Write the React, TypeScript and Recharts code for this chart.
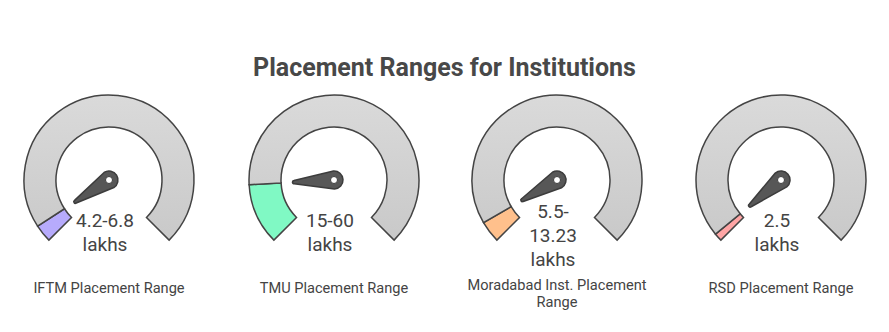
import { PieChart, Pie, Cell, Customized } from 'recharts'

// institutions, left to right
const institutions = ['IFTM', 'TMU', 'Moradabad Inst.', 'RSD']
const captionLines = [
  ['IFTM Placement Range'],
  ['TMU Placement Range'],
  ['Moradabad Inst. Placement', 'Range'],
  ['RSD Placement Range'],
]
const valueLines = [
  ['4.2-6.8', 'lakhs'],
  ['15-60', 'lakhs'],
  ['5.5-', '13.23', 'lakhs'],
  ['2.5', 'lakhs'],
]
// share of the dial that is filled (percent)
const filledShare = [4.5, 15.5, 5.5, 2]
const fillColors = ['#b7abfc', '#80f9c4', '#ffc08c', '#ffa5a5']

const W = 889
const H = 332
const CX = [109, 334, 557, 781]
const CY = 180
const START = 225
const END = -45
const INNER = 53
const OUTER = 85
const INK = '#444444'
const FONT = 'Roboto, "Noto Sans", sans-serif'

function needlePath(cx: number, cy: number, deg: number) {
  const a = (deg * Math.PI) / 180
  const ux = Math.cos(a), uy = -Math.sin(a) // screen direction to tip
  const px = -uy, py = ux // perpendicular
  const L = 40, R = 9, t = 1.6
  const tx = cx + ux * L, ty = cy + uy * L
  const p1 = [tx + px * t, ty + py * t]
  const p2 = [cx + px * R, cy + py * R]
  const p3 = [cx - px * R, cy - py * R]
  const p4 = [tx - px * t, ty - py * t]
  return `M${p1[0]},${p1[1]} L${p2[0]},${p2[1]} A${R},${R} 0 1 1 ${p3[0]},${p3[1]} L${p4[0]},${p4[1]} A${t},${t} 0 0 1 ${p1[0]},${p1[1]} Z`
}

function Overlay() {
  return (
    <g>
      <text x={W / 2} y={67} textAnchor="middle" dominantBaseline="central"
        fontFamily={FONT} fontWeight={700} fontSize={25} fill="#484848">
        Placement Ranges for Institutions
      </text>
      {institutions.map((inst, i) => {
        const cx = CX[i]
        const angle = START - (filledShare[i] / 100) * (START - END)
        const lines = valueLines[i]
        const y0 = 220 - (lines.length - 2) * 9
        const cap = captionLines[i]
        const c0 = cap.length > 1 ? 285 : 288
        return (
          <g key={inst}>
            <path d={needlePath(cx, CY, angle)} fill="#575757" stroke="#3c3c3c" strokeWidth={1.5} strokeLinejoin="round" />
            <circle cx={cx} cy={CY} r={3.5} fill="#fff" stroke="#3c3c3c" strokeWidth={1} />
            {lines.map((ln, j) => (
              <text key={j} x={cx - 4} y={y0 + j * 24} textAnchor="middle" dominantBaseline="central"
                fontFamily={FONT} fontSize={19} fill={INK}>{ln}</text>
            ))}
            {cap.map((ln, j) => (
              <text key={'c' + j} x={cx} y={c0 + j * 17} textAnchor="middle" dominantBaseline="central"
                fontFamily={FONT} fontSize={14.6} fill={INK}>{ln}</text>
            ))}
          </g>
        )
      })}
    </g>
  )
}

export default function App() {
  return (
    <div style={{ width: W, height: H, background: '#fff' }}>
      <style>{'body{margin:0}'}</style>
      <PieChart width={W} height={H} margin={{ top: 0, right: 0, bottom: 0, left: 0 }}>
        <defs>
          <linearGradient id="dialGray" x1="0" y1={CY - OUTER} x2="0" y2={CY + OUTER} gradientUnits="userSpaceOnUse">
            <stop offset="0%" stopColor="#dadada" />
            <stop offset="100%" stopColor="#c6c6c6" />
          </linearGradient>
        </defs>
        {institutions.map((inst, i) => (
          <Pie key={inst}
            data={[{ name: inst, value: filledShare[i] }, { name: 'rest', value: 100 - filledShare[i] }]}
            dataKey="value" cx={CX[i]} cy={CY} startAngle={START} endAngle={END}
            innerRadius={INNER} outerRadius={OUTER} stroke={INK} strokeWidth={1.5}
            isAnimationActive={false}>
            <Cell fill={fillColors[i]} />
            <Cell fill="url(#dialGray)" />
          </Pie>
        ))}
        <Customized component={Overlay} />
      </PieChart>
    </div>
  )
}
